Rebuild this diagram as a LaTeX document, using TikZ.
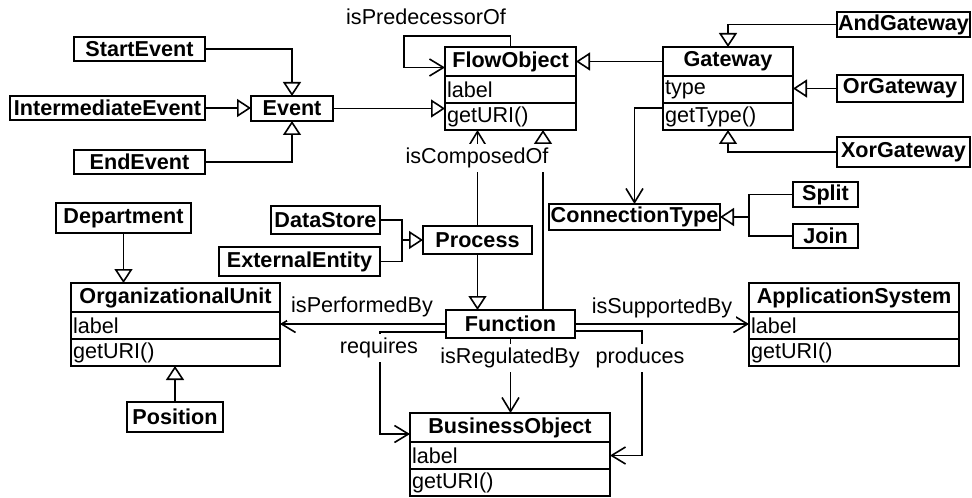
\documentclass[tikz,border=0pt]{standalone}
\usepackage{fontspec}
\setmainfont{Liberation Sans}
\usetikzlibrary{arrows.meta,calc}

\newcommand\dfont{\fontsize{10.8pt}{12pt}\selectfont}

\tikzset{
  x=0.5pt, y=-0.5pt,
  boxline/.style={draw, line width=0.9pt, outer sep=0pt},
  sbox/.style={boxline, inner sep=0pt, font=\dfont\bfseries},
  cattr/.style={boxline, inner xsep=1pt, inner ysep=0pt, font=\dfont, align=left},
  conn/.style={line width=0.8pt},
  inh/.style={conn, -{Triangle[open, length=7pt, width=9pt]}},
  assoc/.style={conn, -{Straight Barb[length=7pt, width=8.5pt]}},
  lbl/.style={fill=white, inner sep=2pt, font=\dfont},
}

% plain box: name, x1, y1, x2, y2, text
\newcommand\umlbox[6]{%
  \pgfmathsetlengthmacro\bw{(#4-#2)*0.5pt}%
  \pgfmathsetlengthmacro\bh{(#5-#3)*0.5pt}%
  \node[sbox, minimum width=\bw, minimum height=\bh] (#1) at ({(#2+#4)/2},{(#3+#5)/2}) {#6};}

% class with three compartments: name, x1, x2, ytop, title, attribute, method
\newcommand\umlclass[7]{%
  \pgfmathsetlengthmacro\bw{(#3-#2)*0.5pt}%
  \pgfmathsetlengthmacro\tw{(#3-#2)*0.5pt-2pt}%
  \node[sbox, minimum width=\bw, minimum height=14.5pt] (#1t) at ({(#2+#3)/2},{#4+14.5}) {#5};
  \node[cattr, text width=\tw, minimum height=13.5pt, anchor=north] (#1a) at (#1t.south) {#6};
  \node[cattr, text width=\tw, minimum height=13.5pt, anchor=north] (#1m) at (#1a.south) {#7};}

\begin{document}
\begin{tikzpicture}
\fill[white] (0,0) rectangle (972,497);
\useasboundingbox (0,0) rectangle (972,497);

% events
\umlbox{se}{74}{37}{205}{61}{StartEvent}
\umlbox{ie}{10}{96}{205}{120}{IntermediateEvent}
\umlbox{ee}{74}{150}{205}{174}{EndEvent}
\umlbox{ev}{251}{96}{333}{121}{Event}

% flow objects and gateways
\umlclass{fo}{445}{576}{47}{FlowObject}{label}{getURI()}
\umlclass{gw}{663}{793}{47}{Gateway}{type}{getType()}
\umlbox{ag}{837}{12}{970}{37}{AndGateway}
\umlbox{og}{837}{75}{963}{102}{OrGateway}
\umlbox{xg}{837}{137}{970}{167}{XorGateway}
\umlbox{ct}{549}{204}{720}{230}{ConnectionType}
\umlbox{sp}{793}{182}{858}{207}{Split}
\umlbox{jo}{793}{224}{858}{248}{Join}

% processes and functions
\umlbox{ds}{271}{206}{380}{234}{DataStore}
\umlbox{xe}{219}{247}{380}{276}{ExternalEntity}
\umlbox{pr}{423}{226}{532}{254}{Process}
\umlbox{fn}{446}{310}{575}{338}{Function}

% organisation
\umlbox{dp}{56}{203}{191}{233}{Department}
\umlclass{ou}{71}{280}{283}{OrganizationalUnit}{label}{getURI()}
\umlbox{ps}{127}{402}{223}{432}{Position}

% systems and objects
\umlclass{as}{749}{959}{283}{ApplicationSystem}{label}{getURI()}
\umlclass{bo}{410}{610}{413}{BusinessObject}{label}{getURI()}

% event hierarchy
\draw[inh] (se.east) -| (ev.north);
\draw[inh] (ee.east) -| (ev.south);
\draw[inh] (ie.east) -- (ie.east -| ev.west);
\draw[inh] (ev.east) -- (ev.east -| fom.west);

% isPredecessorOf loop
\coordinate (pl) at (404,36);
\draw[assoc] (fot.north) |- (pl) |- ($(fot.west)+(0,6)$);

% gateway hierarchy
\draw[inh] (gwt.west) -- (gwt.west -| fot.east);
\draw[inh] (ag.west) -| (gwt.north);
\draw[inh] (og.west) -- (og.west -| gwa.east);
\draw[inh] (xg.west) -| (gwm.south);
\draw[assoc] ($(gwm.north west)+(0,5)$) -| (ct.north);

% connection types
\coordinate (ctj) at ($(ct.east)+(29,0)$);
\draw[conn] (sp.west) -| (ctj) |- (jo.west);
\draw[inh] (ctj) -- (ct.east);

% process hierarchy
\coordinate (prj) at ($(pr.west)+(-21,0)$);
\draw[conn] (ds.east) -| (prj) |- (xe.east);
\draw[inh] (prj) -- (pr.west);

% organisational units
\draw[inh] (dp.south) -- (dp.south |- out.north);
\draw[inh] (ps.north) -- (ps.north |- oum.south);

% process, function and flow object
\draw[assoc] (pr.north) -- (pr.north |- fom.south);
\draw[inh] (pr.south) -- (pr.south |- fn.north);
\coordinate (fnup) at ($(fn.north)+(32.5,0)$);
\draw[inh] (fnup) -- (fnup |- fom.south);

% function associations
\draw[assoc] (fn.west) -- (fn.west -| oua.east);
\draw[assoc] (fn.east) -- (fn.east -| asa.west);
\draw[assoc] ($(fn.south west)+(0,-6)$) -| ($(bot.west)+(-30,6.5)$) -- ($(bot.west)+(0,6.5)$);
\draw[assoc] ($(fn.south east)+(0,-7)$) -| ($(boa.east)+(32,0)$) -- (boa.east);
\draw[assoc] (fn.south) -- (fn.south |- bot.north);

% association labels
\node[lbl] (lpred) at (426,17) {isPredecessorOf};
\node[lbl] (lcomp) at (477,158) {isComposedOf};
\node[lbl] (lperf) at (362,307) {isPerformedBy};
\node[lbl] (lsupp) at (662,308) {isSupportedBy};
\node[lbl] (lreq) at (379,348) {requires};
\node[lbl] (lreg) at (510,358) {isRegulatedBy};
\node[lbl] (lprod) at (640,358) {produces};
\end{tikzpicture}
\end{document}
